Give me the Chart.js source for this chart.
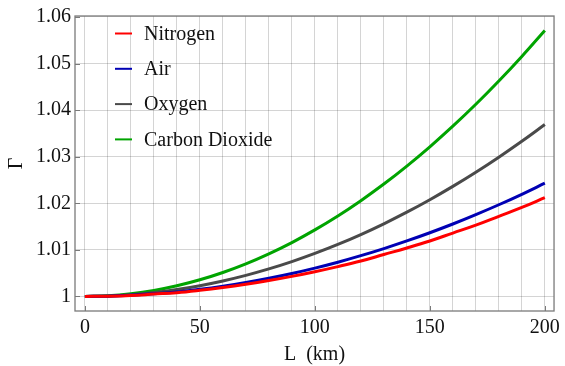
<!DOCTYPE html>
<html>
<head>
<meta charset="utf-8">
<script src="https://cdn.jsdelivr.net/npm/chart.js@4.4.1/dist/chart.umd.min.js"></script>
<style>
  html, body { margin: 0; padding: 0; background: #fff; }
  #wrap { width: 565px; height: 366px; }
</style>
</head>
<body>
<div id="wrap"><canvas id="c" width="565" height="366"></canvas></div>
<script>
// distance L (km)
const distances = [0, 10, 20, 30, 40, 50, 60, 70, 80, 90, 100, 110, 120, 130, 140, 150, 160, 170, 180, 190, 200];

// Γ values
const nitrogen = [1, 1.00005, 1.0002, 1.0005, 1.0008, 1.0013, 1.0019, 1.0026, 1.0034, 1.0043, 1.0053,
  1.0064, 1.0076, 1.0090, 1.0104, 1.0119, 1.0136, 1.0153, 1.0172, 1.0191, 1.0212];
const air = [1, 1.00006, 1.00024, 1.00055, 1.00097, 1.00152, 1.00219, 1.00298, 1.00389, 1.00492, 1.00608,
  1.00735, 1.00875, 1.01027, 1.01191, 1.01367, 1.01555, 1.01756, 1.01968, 1.02193, 1.0243];
const oxygen = [1, 1.00009, 1.00037, 1.00083, 1.00148, 1.00231, 1.00332, 1.00452, 1.0059, 1.00747, 1.00923,
  1.01116, 1.01328, 1.01559, 1.01808, 1.02076, 1.02362, 1.02666, 1.02989, 1.0333, 1.0369];
const carbonDioxide = [1, 1.00014, 1.00057, 1.00128, 1.00228, 1.00357, 1.00514, 1.00699, 1.00914, 1.01156, 1.01428,
  1.01727, 1.02056, 1.02412, 1.02798, 1.03212, 1.03654, 1.04125, 1.04625, 1.05153, 1.0571];

const seriesNames = ['Nitrogen', 'Air', 'Oxygen', 'Carbon Dioxide'];
const seriesColors = ['#ff0000', '#0000b4', '#4a4a4a', '#00a400'];

const xTicks = [0, 10, 20, 30, 40, 50, 60, 70, 80, 90, 100, 110, 120, 130, 140, 150, 160, 170, 180, 190, 200];
const xLabels = [0, 50, 100, 150, 200];
const yTicks = [1, 1.01, 1.02, 1.03, 1.04, 1.05, 1.06];

const FONT = '"Liberation Serif", "Times New Roman", serif';

const toPoints = (ys) => distances.map((x, i) => ({ x: x, y: ys[i] }));
const allSeries = [nitrogen, air, oxygen, carbonDioxide];

// frame, inner tick marks, legend and axis titles
const decorations = {
  id: 'decorations',
  afterDraw(chart) {
    const ctx = chart.ctx;
    const a = chart.chartArea;
    const xs = chart.scales.x;
    const ys = chart.scales.y;
    ctx.save();
    ctx.strokeStyle = '#7a7a7a';
    ctx.lineWidth = 1.3;
    ctx.strokeRect(a.left, a.top, a.right - a.left, a.bottom - a.top);

    // small ticks pointing into the plot
    ctx.lineWidth = 1;
    ctx.beginPath();
    xLabels.forEach(v => {
      const px = Math.round(xs.getPixelForValue(v)) + 0.5;
      ctx.moveTo(px, a.bottom);
      ctx.lineTo(px, a.bottom - 5);
    });
    yTicks.forEach(v => {
      const py = Math.round(ys.getPixelForValue(v)) + 0.5;
      ctx.moveTo(a.left, py);
      ctx.lineTo(a.left + 5, py);
    });
    ctx.stroke();

    // legend
    ctx.font = '20px ' + FONT;
    ctx.textBaseline = 'middle';
    ctx.textAlign = 'left';
    seriesNames.forEach((name, i) => {
      const y = 33.5 + i * 35.3;
      ctx.strokeStyle = seriesColors[i];
      ctx.lineWidth = 2;
      ctx.beginPath();
      ctx.moveTo(115, y);
      ctx.lineTo(132, y);
      ctx.stroke();
      ctx.fillStyle = '#111';
      ctx.fillText(name, 144, y + 1);
    });

    // axis titles
    ctx.fillStyle = '#111';
    ctx.textAlign = 'center';
    ctx.fillText('L  (km)', (a.left + a.right) / 2, 355);
    ctx.translate(17, (a.top + a.bottom) / 2);
    ctx.rotate(-Math.PI / 2);
    ctx.fillText('\u0393', 0, 0);
    ctx.restore();
  }
};

new Chart(document.getElementById('c'), {
  type: 'line',
  data: {
    datasets: allSeries.map((ys, i) => ({
      label: seriesNames[i],
      data: toPoints(ys),
      borderColor: seriesColors[i],
      borderWidth: 3,
      pointRadius: 0,
      tension: 0.4,
      fill: false
    }))
  },
  options: {
    responsive: false,
    animation: false,
    layout: { padding: { left: 0, right: 9, top: 14, bottom: 0 } },
    plugins: {
      legend: { display: false },
      tooltip: { enabled: false }
    },
    scales: {
      x: {
        type: 'linear',
        min: -4.3,
        max: 204,
        afterBuildTicks: (scale) => { scale.ticks = xTicks.map(v => ({ value: v })); },
        afterFit: (scale) => { scale.height = 55; },
        grid: { color: 'rgba(0,0,0,0.17)', lineWidth: 1, drawTicks: false },
        border: { display: false },
        ticks: {
          autoSkip: false,
          maxRotation: 0,
          padding: 5,
          color: '#111',
          font: { family: FONT, size: 20 },
          callback: (v) => xLabels.includes(v) ? String(v) : ''
        }
      },
      y: {
        type: 'linear',
        min: 0.99687,
        max: 1.0602,
        afterBuildTicks: (scale) => { scale.ticks = yTicks.map(v => ({ value: v })); },
        afterFit: (scale) => { scale.width = 75; },
        grid: { color: 'rgba(0,0,0,0.17)', lineWidth: 1, drawTicks: false },
        border: { display: false },
        ticks: {
          autoSkip: false,
          padding: 4,
          color: '#111',
          font: { family: FONT, size: 20 },
          callback: (v) => {
            const r = Math.round(v * 100) / 100;
            return r === 1 ? '1' : r.toFixed(2);
          }
        }
      }
    }
  },
  plugins: [decorations]
});
</script>
</body>
</html>
